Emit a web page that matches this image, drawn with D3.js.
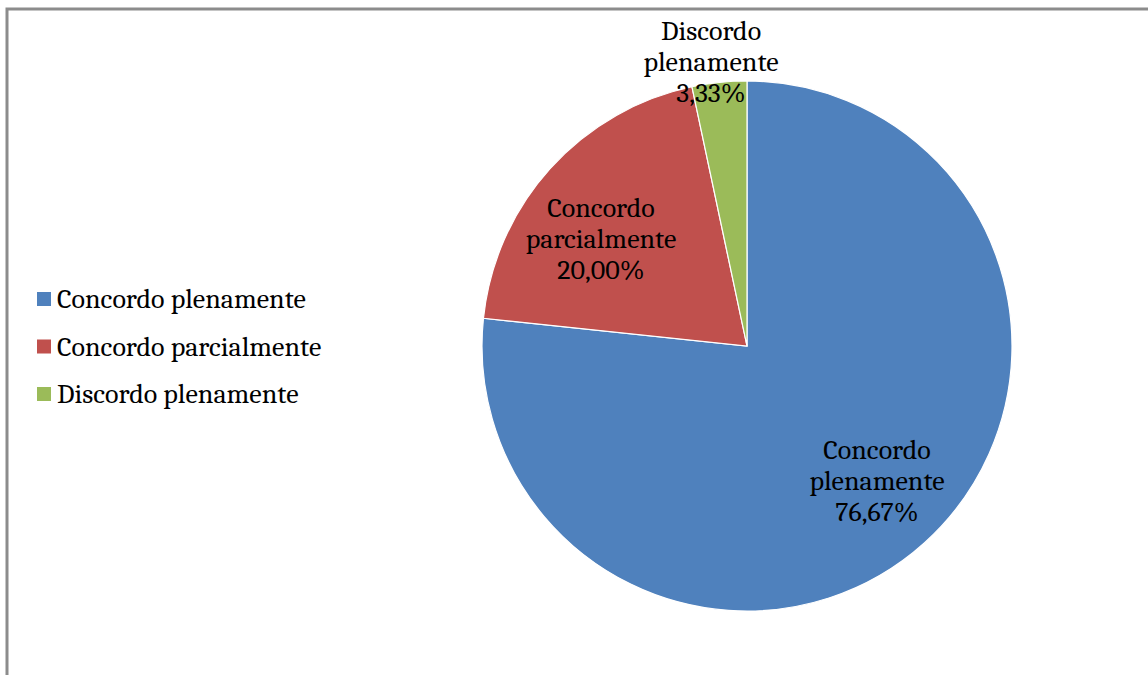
<!DOCTYPE html>
<html><head><meta charset="utf-8">
<script src="https://cdn.jsdelivr.net/npm/d3@7"></script>
<style>body{margin:0;background:#fff}</style>
</head><body>
<script>
const categories = ["Concordo plenamente", "Concordo parcialmente", "Discordo plenamente"];
const values = [76.67, 20.00, 3.33];
const valueLabels = ["76,67%", "20,00%", "3,33%"];
const colors = ["#4F81BD", "#C0504D", "#9BBB59"];

const W = 1148, H = 675;
const svg = d3.select("body").append("svg").attr("width", W).attr("height", H);
const font = "Cambria, 'DejaVu Serif', serif";

svg.append("path").attr("d", `M7,${H+5} V9 H${W+5}`).attr("fill","none").attr("stroke","#8c8c8c").attr("stroke-width",3);

const cx = 747, cy = 346, R = 265;
const pie = d3.pie().sort(null).value(d => d);
const arcs = pie(values);
const arc = d3.arc().innerRadius(0).outerRadius(R);
const g = svg.append("g").attr("transform", `translate(${cx},${cy})`);
g.selectAll("path").data(arcs).join("path")
  .attr("d", arc).attr("fill", (d,i) => colors[i])
  .attr("stroke", "#fff").attr("stroke-width", 1.2);

const labelPos = [[130, 135], [-146, -107], [-36, -284]];
const fs = 28;
arcs.forEach((a, i) => {
  const lines = i === 1 ? ["Concordo", "parcialmente", valueLabels[i]]
              : [categories[i].split(" ")[0], categories[i].split(" ")[1], valueLabels[i]];
  const t = g.append("text").attr("text-anchor", "middle")
    .attr("font-family", font).attr("font-size", fs).attr("fill", "#000");
  lines.forEach((l, k) => {
    t.append("tspan").attr("x", labelPos[i][0]).attr("y", labelPos[i][1] + (k - 1) * 31 + 9).text(l);
  });
});

const leg = svg.append("g");
const legY = d3.scalePoint().domain(categories).range([299, 394]);
categories.forEach((c, i) => {
  leg.append("rect").attr("x", 37).attr("y", legY(c) - 7).attr("width", 14).attr("height", 14).attr("fill", colors[i]);
  leg.append("text").attr("x", 57).attr("y", legY(c) + 9).attr("font-family", font)
    .attr("font-size", fs).attr("fill", "#000").text(c);
});
</script>
</body></html>
